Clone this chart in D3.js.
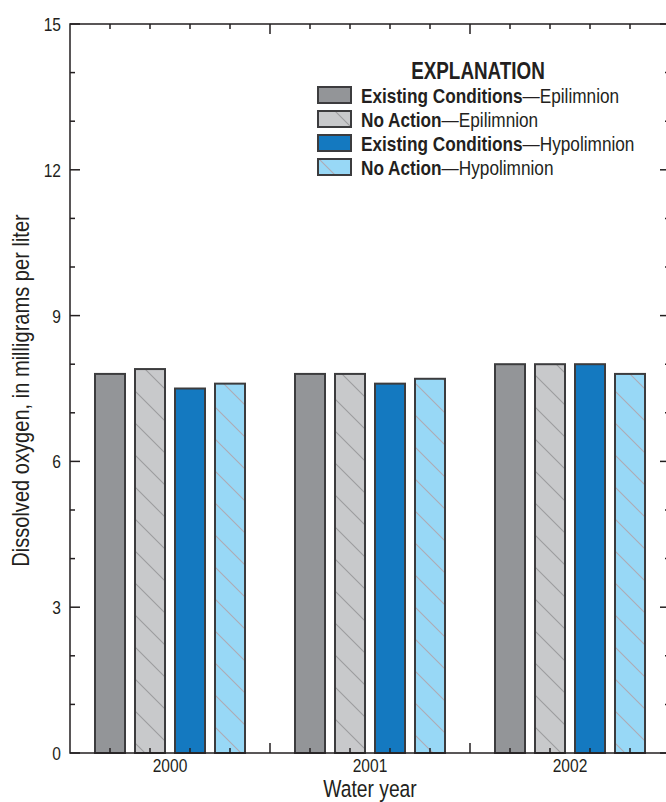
<!DOCTYPE html>
<html>
<head>
<meta charset="utf-8">
<script src="https://cdn.jsdelivr.net/npm/d3@7"></script>
<style>
  html, body { margin: 0; padding: 0; background: #fff; }
  svg { display: block; }
  text { font-family: "Liberation Sans", Arial, sans-serif; fill: #231f20; }
</style>
</head>
<body>
<svg id="chart" width="666" height="802"></svg>
<script>
// ---- data ----
const years = ["2000", "2001", "2002"];
const seriesNames = [
  ["Existing Conditions", "Epilimnion"],
  ["No Action", "Epilimnion"],
  ["Existing Conditions", "Hypolimnion"],
  ["No Action", "Hypolimnion"]
];
const existingEpi = [7.8, 7.8, 8.0];
const noActionEpi = [7.9, 7.8, 8.0];
const existingHypo = [7.5, 7.6, 8.0];
const noActionHypo = [7.6, 7.7, 7.8];
const yTickLabels = [0, 3, 6, 9, 12, 15];

// ---- styles ----
const fills = ["#939598", "#c8c9cb", "#1479c0", "#98d8f6"];
const hatched = [false, true, false, true];
const hatchColors = [null, "#9c9c9e", null, "#aeaab4"];
const seriesValues = [existingEpi, noActionEpi, existingHypo, noActionHypo];
const condense = 0.82; // emulate a condensed typeface

const svg = d3.select("#chart");
const pL = 70, pR = 670, pT = 24, pB = 753;

const x = d3.scaleLinear().domain([0, 15]).range([pL, pR]);
const y = d3.scaleLinear().domain([0, 15]).range([pB, pT]);

// helper: condensed text placed at (tx, ty)
function ctext(parent, tx, ty, rot) {
  return parent.append("text")
    .attr("transform", `translate(${tx},${ty})${rot ? ` rotate(${rot})` : ""} scale(${condense},1)`);
}

// patterns
const defs = svg.append("defs");
fills.forEach((f, i) => {
  if (!hatched[i]) return;
  const p = defs.append("pattern")
    .attr("id", "hatch" + i)
    .attr("patternUnits", "userSpaceOnUse")
    .attr("width", 32).attr("height", 32);
  p.append("rect").attr("width", 32).attr("height", 32).attr("fill", f);
  p.append("path")
    .attr("d", "M-2,-2 L34,34 M-2,30 L2,34 M30,-2 L34,2")
    .attr("stroke", hatchColors[i]).attr("stroke-width", 1.1).attr("fill", "none");
});
const fillOf = i => hatched[i] ? `url(#hatch${i})` : fills[i];

// bars
const barW = x(0.8) - x(0) - 2;
const barsG = svg.append("g");
years.forEach((yr, yi) => {
  seriesValues.forEach((vals, si) => {
    const pos = yi * 5 + 1 + si;
    barsG.append("rect")
      .attr("x", x(pos) - barW / 2)
      .attr("y", y(vals[yi]))
      .attr("width", barW)
      .attr("height", y(0) - y(vals[yi]))
      .attr("fill", fillOf(si))
      .attr("stroke", "#3c3c3e")
      .attr("stroke-width", 2);
  });
});

// frame
const axisColor = "#231f20";
svg.append("rect")
  .attr("x", pL).attr("y", pT)
  .attr("width", pR - pL).attr("height", pB - pT)
  .attr("fill", "none").attr("stroke", axisColor).attr("stroke-width", 1.5);

// y ticks (left & right)
const ticksG = svg.append("g").attr("stroke", axisColor).attr("stroke-width", 1.5);
d3.range(0, 16).forEach(v => {
  const len = v % 3 === 0 ? 10 : 5;
  ticksG.append("line").attr("x1", pL).attr("x2", pL + len).attr("y1", y(v)).attr("y2", y(v));
  ticksG.append("line").attr("x1", pR).attr("x2", pR - len).attr("y1", y(v)).attr("y2", y(v));
});
// x ticks (bottom & top)
d3.range(1, 15).forEach(v => {
  const len = v % 5 === 0 ? 10 : 5;
  ticksG.append("line").attr("x1", x(v)).attr("x2", x(v)).attr("y1", pB).attr("y2", pB - len);
  ticksG.append("line").attr("x1", x(v)).attr("x2", x(v)).attr("y1", pT).attr("y2", pT + len);
});

// y tick labels
const yl = svg.append("g");
yTickLabels.forEach(d => {
  ctext(yl, pL - 9, y(d) + 7).attr("text-anchor", "end").attr("font-size", 19).text(d);
});

// year labels
const xl = svg.append("g");
years.forEach((d, i) => {
  ctext(xl, x(i * 5 + 2.5), 772).attr("text-anchor", "middle").attr("font-size", 19).text(d);
});

// axis titles
ctext(svg, (pL + pR) / 2, 797).attr("text-anchor", "middle").attr("font-size", 23.5).text("Water year");
ctext(svg, 29, (pT + pB) / 2 + 2, -90).attr("text-anchor", "middle").attr("font-size", 24.5)
  .text("Dissolved oxygen, in milligrams per liter");

// legend
const lg = svg.append("g");
ctext(lg, 478, 79).attr("text-anchor", "middle").attr("font-size", 23).attr("font-weight", "bold")
  .text("EXPLANATION");
seriesNames.forEach((nm, i) => {
  const cy = 95 + i * 24;
  lg.append("rect")
    .attr("x", 318).attr("y", cy - 8)
    .attr("width", 33).attr("height", 16)
    .attr("fill", fillOf(i))
    .attr("stroke", "#3c3c3e").attr("stroke-width", 2);
  const t = ctext(lg, 361, cy + 7.5).attr("font-size", 21);
  t.append("tspan").attr("font-weight", "bold").text(nm[0]);
  t.append("tspan").text("\u2014" + nm[1]);
});
</script>
</body>
</html>
